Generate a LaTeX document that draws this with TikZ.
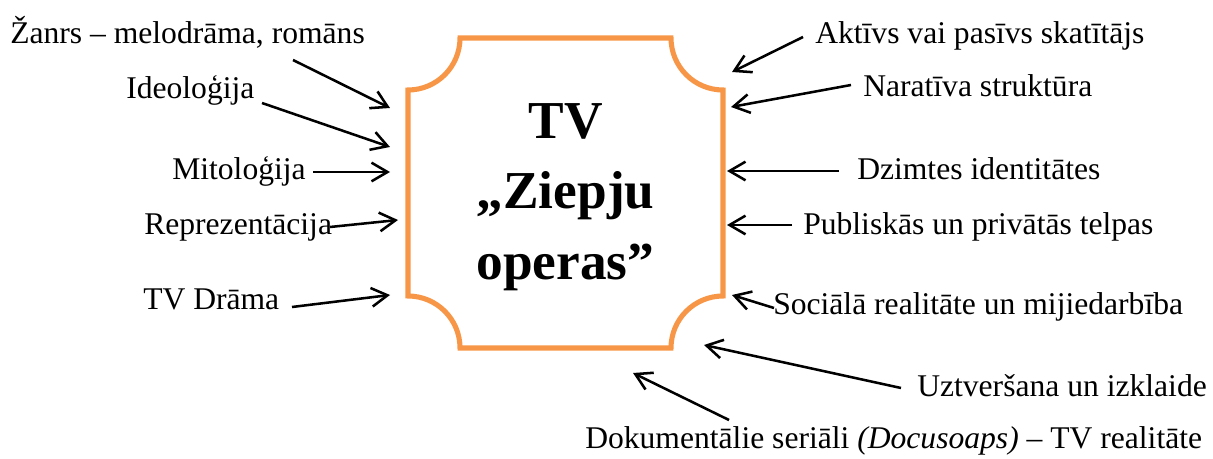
\documentclass[tikz,border=0pt]{standalone}
\usepackage{fontspec}
\setmainfont{Liberation Serif}
\usetikzlibrary{arrows.meta}
\definecolor{boxorange}{HTML}{F79646}
\begin{document}
\begin{tikzpicture}[x=0.75pt,y=-0.75pt,
  lbl/.style={anchor=base west,inner sep=0pt,font=\fontsize{23.7}{28}\selectfont},
  arr/.style={line width=1.9pt,-{Straight Barb[length=12pt,width=14pt,line width=1.9pt]}},
  plaque/.style={draw=boxorange,line width=3.8pt,line join=miter}]
\useasboundingbox (0,0) rectangle (1213,459);
% central shape
\draw[plaque] (460,38) -- (671,38)
  arc[start angle=180,end angle=270,radius=39pt] -- (723,296)
  arc[start angle=90,end angle=180,radius=39pt] -- (460,348)
  arc[start angle=0,end angle=90,radius=39pt] -- (408,90)
  arc[start angle=270,end angle=360,radius=39pt] -- cycle;
\node[align=center,inner sep=0pt,font=\fontsize{40}{53}\selectfont\bfseries] (title) at (565.5,197) {TV\\„Ziepju\\operas”};
% labels
\node[lbl] (zanrs) at (10,44) {Žanrs – melodrāma, romāns};
\node[lbl] (ideo) at (126,99) {Ideoloģija};
\node[lbl] (mito) at (172,180) {Mitoloģija};
\node[lbl] (repr) at (144,235) {Reprezentācija};
\node[lbl] (tvd) at (143,310) {TV Drāma};
\node[lbl] (akt) at (815,44) {Aktīvs vai pasīvs skatītājs};
\node[lbl] (nar) at (863,97) {Naratīva struktūra};
\node[lbl] (dzim) at (857,180) {Dzimtes identitātes};
\node[lbl] (publ) at (803,235) {Publiskās un privātās telpas};
\node[lbl] (soc) at (773,315) {Sociālā realitāte un mijiedarbība};
\node[lbl] (uzt) at (917,397) {Uztveršana un izklaide};
\node[lbl] (dok) at (585,448) {Dokumentālie seriāli \textit{(Docusoaps)} – TV realitāte};
% arrow end points
\coordinate (s1) at (293,60);  \coordinate (t1) at (390,108);
\coordinate (s2) at (262,103); \coordinate (t2) at (390,147);
\coordinate (s3) at (313,172); \coordinate (t3) at (390,172);
\coordinate (s4) at (330,227); \coordinate (t4) at (398,220);
\coordinate (s5) at (292,307); \coordinate (t5) at (390,295);
\coordinate (s6) at (803,37);  \coordinate (t6) at (732,72);
\coordinate (s7) at (851,85);  \coordinate (t7) at (731,107);
\coordinate (s8) at (839,171); \coordinate (t8) at (727,171);
\coordinate (s9) at (792,225); \coordinate (t9) at (727,225);
\coordinate (s10) at (774,308); \coordinate (t10) at (732,295);
\coordinate (s11) at (901,388); \coordinate (t11) at (704,345);
\coordinate (s12) at (729,420); \coordinate (t12) at (633,373);
\foreach \i in {1,...,12} {\draw[arr] (s\i) -- (t\i);}
\end{tikzpicture}
\end{document}
